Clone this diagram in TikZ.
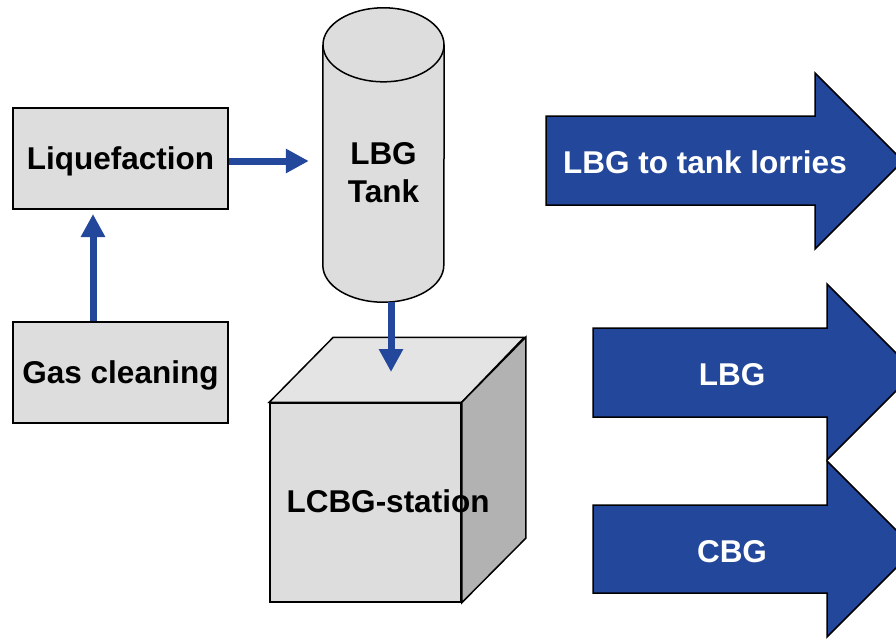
\documentclass[tikz,border=0pt]{standalone}
\usepackage{fontspec}
\setmainfont{Liberation Sans}
\usetikzlibrary{arrows.meta}

\definecolor{flowblue}{RGB}{34,71,155}
\definecolor{boxgray}{RGB}{221,221,221}
\definecolor{topgray}{RGB}{228,228,228}
\definecolor{sidegray}{RGB}{178,178,178}

\tikzset{
  box/.style={draw=black, fill=boxgray, line width=2pt, inner sep=0pt,
    minimum width=215pt, minimum height=101pt, text depth=0pt,
    font=\fontsize{31.5}{38}\selectfont\bfseries},
  boxtext/.style={inner sep=0pt, align=center,
    font=\fontsize{31.5}{38}\selectfont\bfseries},
  arrowtext/.style={inner sep=0pt, text=white,
    font=\fontsize{31.5}{38}\selectfont\bfseries},
  face/.style={draw=black, line width=1.5pt, line join=miter},
  bigarrow/.style={draw=black, fill=flowblue, line width=1.5pt, line join=miter},
  flow/.style={draw=flowblue, line width=7pt,
    -{Triangle[width=23pt,length=23pt]}}
}

\begin{document}
\begin{tikzpicture}[x=1pt, y=-1pt]
\useasboundingbox (0,0) rectangle (896,638);
\clip (0,0) rectangle (896,638);

% left boxes
\node[box] (liq) at (120.5,158.5) {Liquefaction};
\node[box] (gas) at (120.5,372) {Gas cleaning};

% tank
\node[minimum width=121pt, minimum height=294pt, inner sep=0pt] (tank) at (383.5,155) {};
\draw[face, fill=boxgray] ([yshift=-37pt]tank.north west) -- ([yshift=37pt]tank.south west)
  arc[start angle=180, end angle=360, x radius=60.5pt, y radius=37pt]
  -- ([yshift=-37pt]tank.north east);
\draw[face, fill=boxgray] ([yshift=-37pt]tank.north) ellipse[x radius=60.5pt, y radius=37pt];
\node[boxtext] (tanklabel) at (383.5,173) {LBG\\Tank};

% station
\node[face, fill=boxgray, minimum width=191pt, minimum height=199pt, inner sep=0pt] (station) at (365.5,502.5) {};
\draw[face, fill=topgray] (station.north west) -- ++(64,-65) -- ++(191,0) -- (station.north east) -- cycle;
\draw[face, fill=sidegray] (station.north east) -- ++(64,-65) -- ++(0,201) -- (station.south east) -- cycle;
\node[boxtext] (stationlabel) at (388,501) {LCBG-station};

% connectors
\coordinate (up) at (93,0);
\coordinate (drop) at (391,372);
\draw[flow, shorten >=4pt] (gas.north -| up) -- (liq.south -| up);
\draw[flow, shorten >=14pt] ([yshift=-2.5pt]liq.east) -- ([yshift=-2.5pt]liq.east -| tank.west);
\draw[flow] (tank.south -| drop) -- (drop);

% outputs
\draw[bigarrow] (546,116) -- (815,116) -- (815,73) -- (903,161) -- (815,249) -- (815,205) -- (546,205) -- cycle;
\node[arrowtext] (lorries) at (705,162) {LBG to tank lorries};

\draw[bigarrow] (593,328) -- (827,328) -- (827,284) -- (915,372) -- (827,460) -- (827,417) -- (593,417) -- cycle;
\node[arrowtext] (lbg) at (732,375) {LBG};

\draw[bigarrow] (593,505) -- (827,505) -- (827,461) -- (915,549) -- (827,637) -- (827,593) -- (593,593) -- cycle;
\node[arrowtext] (cbg) at (732,552) {CBG};
\end{tikzpicture}
\end{document}
